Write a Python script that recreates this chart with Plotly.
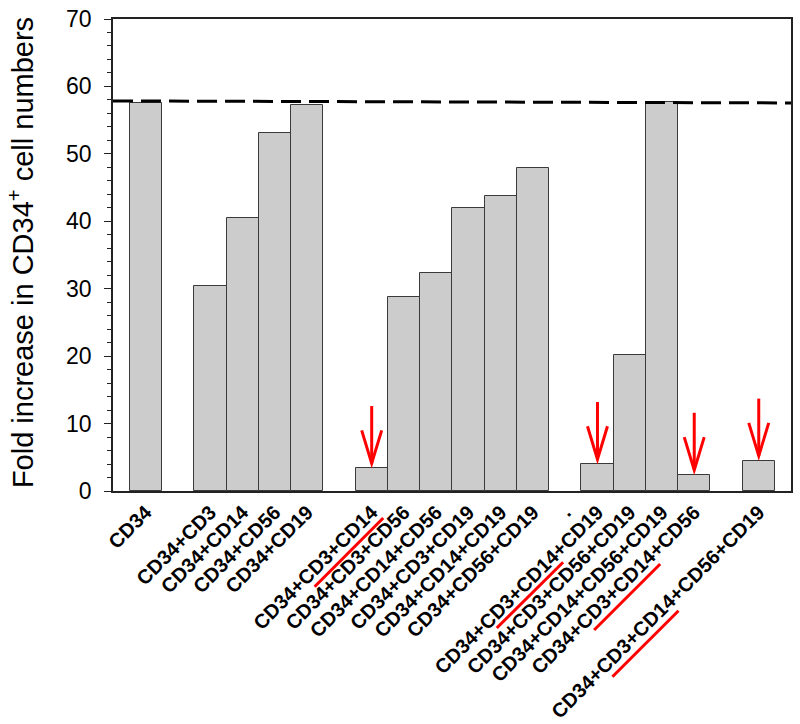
import plotly.graph_objects as go

# ---- data ----
group_single = ["CD34"]
group_double = ["CD34+CD3", "CD34+CD14", "CD34+CD56", "CD34+CD19"]
group_triple = ["CD34+CD3+CD14", "CD34+CD3+CD56", "CD34+CD14+CD56",
                "CD34+CD3+CD19", "CD34+CD14+CD19", "CD34+CD56+CD19"]
group_quad = ["CD34+CD3+CD14+CD19", "CD34+CD3+CD56+CD19",
              "CD34+CD14+CD56+CD19", "CD34+CD3+CD14+CD56"]
group_quint = ["CD34+CD3+CD14+CD56+CD19"]

values_single = [57.5]
values_double = [30.45, 40.5, 53.05, 57.25]
values_triple = [3.4, 28.7, 32.4, 42.0, 43.75, 47.95]
values_quad = [4.0, 20.1, 57.7, 2.4]
values_quint = [4.5]

reference_line = [57.85, 57.55]   # dashed line, left and right end
highlighted = ["CD34+CD3+CD14", "CD34+CD3+CD14+CD19",
               "CD34+CD3+CD14+CD56", "CD34+CD3+CD14+CD56+CD19"]

y_ticks = [0, 10, 20, 30, 40, 50, 60, 70]

# ---- layout of slots (one empty slot between groups) ----
groups = [(group_single, values_single), (group_double, values_double),
          (group_triple, values_triple), (group_quad, values_quad),
          (group_quint, values_quint)]
cats, vals, pos = [], [], []
gap_positions = []
p = 0
for gi, (g, v) in enumerate(groups):
    for c, val in zip(g, v):
        cats.append(c); vals.append(val); pos.append(p); p += 1
    if gi < len(groups) - 1:
        gap_positions.append(p)
        p += 1

X0, X1 = -1.02, 20.0
fig = go.Figure()
fig.add_trace(go.Bar(
    x=pos, y=vals, width=1.0,
    marker=dict(color="#cccccc", line=dict(color="#3a3a3a", width=1)),
    hoverinfo="skip", showlegend=False))

tickvals = pos + [gap_positions[2]]
ticktext = cats + ["."]

# plot area in pixels
L, R, T, B = 113.3, 790.7, 19.0, 491.0
W, H = R - L, B - T
def px(xp, yp):
    return (xp - L) / W, (B - yp) / H

shapes = []
# dashed reference line
shapes.append(dict(type="line", xref="paper", yref="y", x0=0, x1=1,
                   y0=reference_line[0], y1=reference_line[1],
                   line=dict(color="black", width=3, dash="20px,8px")))

# red arrows above highlighted bars
for c in highlighted:
    i = cats.index(c)
    x, v = pos[i], vals[i]
    tip, top = v + 0.7, v + 9.2
    shapes.append(dict(type="line", xref="x", yref="y", x0=x, x1=x, y0=tip, y1=top,
                       line=dict(color="#ff0000", width=3)))
    shapes.append(dict(type="path", xref="x", yref="y",
                       path=f"M {x-0.31},{tip+4.9} L {x},{tip} L {x+0.31},{tip+4.9}",
                       line=dict(color="#ff0000", width=3)))

# red underlines beneath the "CD3+CD14" part of labels (pixel positions)
underlines = [((314.7, 586.7), (383.3, 518.0)),
              ((496.7, 628.0), (563.0, 562.3)),
              ((594.0, 630.0), (660.0, 564.0)),
              ((612.3, 676.7), (678.3, 610.7))]
for (a, b) in underlines:
    ax, ay = px(*a); bx, by = px(*b)
    shapes.append(dict(type="line", xref="paper", yref="paper",
                       x0=ax, y0=ay, x1=bx, y1=by,
                       line=dict(color="#ff0000", width=3)))

tx, ty = px(22, 252.5)
fig.update_layout(
    template="none",
    width=800, height=724,
    margin=dict(l=L, r=800 - R, t=T, b=724 - B, pad=0, autoexpand=False),
    plot_bgcolor="white", paper_bgcolor="white",
    font=dict(family="Arial, Liberation Sans, sans-serif", color="black"),
    shapes=shapes,
    annotations=[dict(text="Fold increase in CD34<sup>+</sup> cell numbers",
                      xref="paper", yref="paper", x=tx, y=ty,
                      xanchor="center", yanchor="middle", textangle=-90,
                      showarrow=False, font=dict(size=29, color="black"))],
    xaxis=dict(range=[X0, X1], tickvals=tickvals, ticktext=ticktext,
               tickangle=-45, ticks="", showgrid=False, zeroline=False,
               automargin=False, ticklabeloverflow="allow",
               showline=True, linecolor="#222", linewidth=1.5, mirror=True,
               tickfont=dict(size=20, weight="bold", color="black")),
    yaxis=dict(range=[0, 70], tickvals=y_ticks, ticks="outside", ticklen=7,
               tickwidth=1.2, tickcolor="#222", showgrid=False, zeroline=False,
               automargin=False, ticklabeloverflow="allow",
               showline=True, linecolor="#222", linewidth=1.5, mirror=True,
               ticklabelstandoff=8,
               tickfont=dict(size=23, color="black"),
               minor=dict(dtick=2, ticks="outside", ticklen=4, tickcolor="#222",
                          tickwidth=1, showgrid=False)),
    bargap=0,
)
fig.write_html("out.html", config={"displayModeBar": False},
               post_script="document.body.style.margin='0';document.body.style.overflow='hidden';")
